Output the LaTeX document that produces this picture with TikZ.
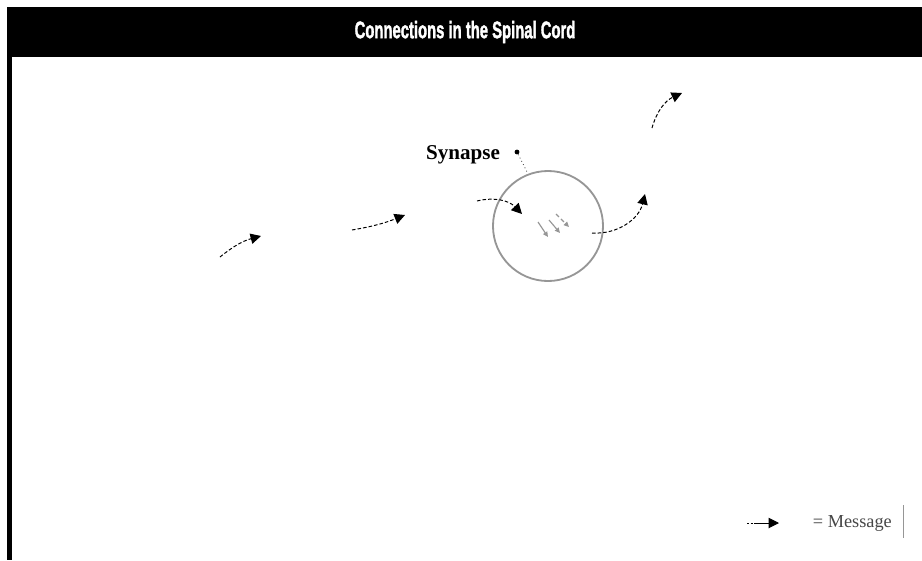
\documentclass[tikz,border=0pt]{standalone}
\usepackage{fontspec}
\setmainfont{Liberation Serif}
\newfontfamily\titlefont[BoldFeatures={FakeBold=2}]{Liberation Sans}
\usetikzlibrary{arrows.meta,positioning,calc}
\definecolor{cordgray}{RGB}{150,150,150}
\definecolor{inkgray}{RGB}{70,70,70}
\tikzset{
  msg/.style={-{Triangle[length=2.6mm,width=2.6mm]}, line width=0.7pt, draw=black,
              dash pattern=on 2.5pt off 1.5pt},
  tiny/.style={-{Triangle[length=1.3mm,width=1.2mm]}, line width=0.8pt, draw=cordgray},
  pointer/.style={line width=0.6pt, dotted, draw=inkgray},
  synring/.style={circle, draw=cordgray, line width=1.3pt, minimum size=2.75cm, inner sep=0pt},
  dotmark/.style={circle, fill=black, minimum size=1.2mm, inner sep=0pt},
}

\begin{document}
\begin{tikzpicture}[x=0.025cm, y=-0.025cm]
    \useasboundingbox (0,0) rectangle (922,560);
    % frame
    \fill[black] (7,7) rectangle (922,57);
    \fill[black] (7,57) rectangle (12,560);
    \node[text=white, font=\titlefont\bfseries\fontsize{17}{20}\selectfont] (title) at (465,32)
      {\scalebox{0.62}[1]{Connections in the Spinal Cord}};

    % synapse
    \node[synring] (ring) at (548,226) {};
    \node[font=\bfseries\fontsize{15}{18}\selectfont, anchor=east] (synlbl) at (505,155) {Synapse};
    \node[dotmark] (syndot) at (517,152) {};
    \draw[pointer] (syndot) -- (ring.111);

    % message arrows
    \coordinate (m1a) at (220,257); \coordinate (m1b) at (261,236);
    \coordinate (m2a) at (352,230); \coordinate (m2b) at (405,215);
    \coordinate (m3a) at (477,201); \coordinate (m3b) at (522,214);
    \coordinate (m4a) at (592,233); \coordinate (m4b) at (645,194);
    \coordinate (m5a) at (652,128); \coordinate (m5b) at (682,93);
    \draw[msg] (m1a) to[bend left=12] (m1b);
    \draw[msg] (m2a) to[bend right=6] (m2b);
    \draw[msg] (m3a) to[bend left=30] (m3b);
    \draw[msg] (m4a) to[bend right=40] (m4b);
    \draw[msg] (m5a) to[bend left=25] (m5b);

    % transmitter inside the synapse
    \coordinate (t1a) at (538,222); \coordinate (t1b) at (548,237);
    \coordinate (t2a) at (549,220); \coordinate (t2b) at (560,233);
    \coordinate (t3a) at (556,214); \coordinate (t3b) at (569,227);
    \draw[tiny] (t1a) -- (t1b);
    \draw[tiny] (t2a) -- (t2b);
    \draw[tiny, dash pattern=on 3pt off 2pt] (t3a) -- (t3b);

    % legend
    \coordinate (lga) at (747,523); \coordinate (lgb) at (779,523);
    \draw[msg, dash pattern=on 1.5pt off 1pt on 1.5pt off 1pt on 40pt] (lga) -- (lgb);
    \node[font=\fontsize{13}{15}\selectfont, text=inkgray, anchor=west] (lgtxt) at (808,523) {= Message};
    \draw[cordgray, line width=0.5pt] (903,505) -- (903,538);
\end{tikzpicture}
\end{document}
